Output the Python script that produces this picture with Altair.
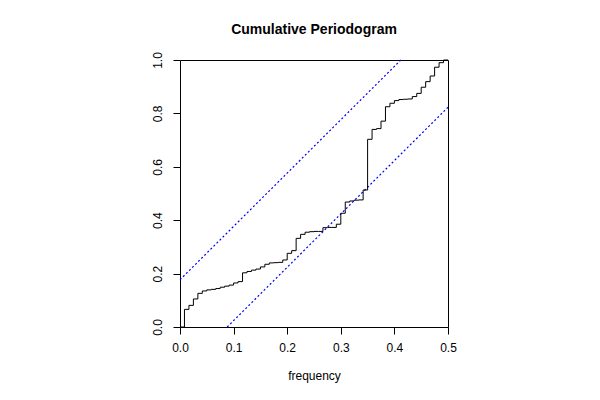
import altair as alt
import pandas as pd

# Frequencies (step positions) and cumulative periodogram values
freq = [0.0, 0.00833, 0.01667, 0.025, 0.03333, 0.04167, 0.05, 0.05833, 0.06667, 0.075,
        0.08333, 0.09167, 0.1, 0.10833, 0.11667, 0.125, 0.13333, 0.14167, 0.15, 0.15833,
        0.16667, 0.175, 0.18333, 0.19167, 0.2, 0.20833, 0.21667, 0.225, 0.23333, 0.24167,
        0.25, 0.25833, 0.26667, 0.275, 0.28333, 0.29167, 0.3, 0.30833, 0.31667, 0.325,
        0.33333, 0.34167, 0.35, 0.35833, 0.36667, 0.375, 0.38333, 0.39167, 0.4, 0.40833,
        0.41667, 0.425, 0.43333, 0.44167, 0.45, 0.45833, 0.46667, 0.475, 0.48333, 0.49167,
        0.5]
cum = [0.0, 0.066, 0.081, 0.105, 0.126, 0.135, 0.139, 0.141, 0.144, 0.149,
       0.153, 0.157, 0.165, 0.170, 0.203, 0.208, 0.213, 0.217, 0.225, 0.235,
       0.240, 0.241, 0.242, 0.251, 0.276, 0.286, 0.332, 0.347, 0.355, 0.357,
       0.358, 0.358, 0.372, 0.373, 0.373, 0.385, 0.426, 0.468, 0.472, 0.475,
       0.476, 0.513, 0.703, 0.740, 0.743, 0.771, 0.825, 0.838, 0.848, 0.852,
       0.853, 0.854, 0.863, 0.875, 0.898, 0.919, 0.940, 0.973, 0.990, 1.0,
       1.0]

# Confidence band lines (endpoints)
ci_name = ["upper", "upper", "lower", "lower"]
ci_x = [0.0, 0.412, 0.088, 0.5]
ci_y = [0.177, 1.0, 0.0, 0.823]

df = pd.DataFrame({"frequency": freq, "cum": cum})
ci = pd.DataFrame({"line": ci_name, "x": ci_x, "y": ci_y})

FONT = "Liberation Sans"

xscale = alt.Scale(domain=[0, 0.5], nice=False, zero=False)
yscale = alt.Scale(domain=[0, 1], nice=False, zero=False)

step = alt.Chart(df).mark_line(interpolate="step-after", color="black", strokeWidth=1).encode(
    x=alt.X("frequency:Q", scale=xscale,
            axis=alt.Axis(title="frequency", values=[0, 0.1, 0.2, 0.3, 0.4, 0.5], format=".1f",
                          labelPadding=8, titlePadding=17)),
    y=alt.Y("cum:Q", scale=yscale,
            axis=alt.Axis(title=None, values=[0, 0.2, 0.4, 0.6, 0.8, 1.0], format=".1f",
                          labelAngle=270, labelAlign="center", labelBaseline="bottom",
                          labelPadding=9)),
)

bands = alt.Chart(ci).mark_line(color="#0000ff", strokeWidth=1.2, strokeDash=[2, 2.3]).encode(
    x=alt.X("x:Q", scale=xscale),
    y=alt.Y("y:Q", scale=yscale),
    detail="line:N",
)

chart = alt.layer(bands, step).properties(
    width=268, height=267,
    title=alt.TitleParams("Cumulative Periodogram", fontSize=14, fontWeight="bold", font=FONT,
                          anchor="middle", baseline="bottom", offset=1, color="black"),
    autosize=alt.AutoSizeParams(type="none"),
    padding={"left": 172, "top": 52, "right": 144, "bottom": 65},
).configure_view(
    stroke="black", strokeWidth=1
).configure_axis(
    grid=False, domain=False, ticks=True, tickSize=7, tickColor="black", tickWidth=1,
    labelFont=FONT, labelFontSize=12, labelColor="black",
    titleFont=FONT, titleFontSize=12, titleFontWeight="normal", titleColor="black",
    labelFlush=False, labelOverlap=False,
)

chart.save("out.html", embed_options={"renderer": "svg", "actions": False})
